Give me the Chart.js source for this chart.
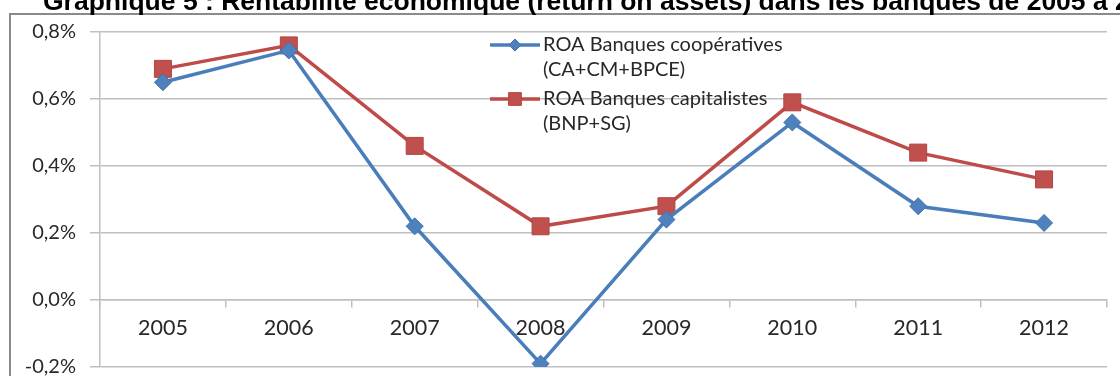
<!DOCTYPE html>
<html lang="fr">
<head>
<meta charset="utf-8">
<title>Rentabilité économique des banques</title>
<script src="https://cdn.jsdelivr.net/npm/chart.js@4/dist/chart.umd.min.js"></script>
<style>
  html, body { margin: 0; padding: 0; background: #fff; overflow: hidden; }
  #wrap { position: relative; width: 1120px; height: 380px; }
</style>
</head>
<body>
<div id="wrap"><canvas id="roaChart"></canvas></div>
<script>
// ROA (%) par année
const years = ['2005', '2006', '2007', '2008', '2009', '2010', '2011', '2012'];
const roaCooperatives = [0.65, 0.745, 0.22, -0.19, 0.24, 0.53, 0.28, 0.23];
const roaCapitalistes = [0.69, 0.76, 0.46, 0.22, 0.28, 0.59, 0.44, 0.36];
const yTicks = [-0.2, 0, 0.2, 0.4, 0.6, 0.8];
const legendCooperatives = ['ROA Banques coopératives', '(CA+CM+BPCE)'];
const legendCapitalistes = ['ROA Banques capitalistes', '(BNP+SG)'];
const chartTitle = 'Graphique 5 : Rentabilité économique (return on assets) dans les banques de 2005 à 2012';

const FONT = 'Lato';
const GRID = '#BFBFBF';
const TEXT = '#282828';

// cadre gris + titre (coupé en haut)
const framePlugin = {
    id: 'frame',
    beforeDraw(chart) {
        const ctx = chart.ctx;
        ctx.save();
        ctx.fillStyle = '#fff';
        ctx.fillRect(0, 0, chart.width, chart.height);
        ctx.strokeStyle = '#8A8A8A';
        ctx.lineWidth = 2;
        ctx.strokeRect(10, 14, chart.width + 40, chart.height + 40);
        ctx.fillStyle = '#000';
        ctx.font = 'bold 26.5px "Liberation Sans", Arial, sans-serif';
        ctx.textBaseline = 'alphabetic';
        ctx.fillText(chartTitle, 43, 10);
        ctx.restore();
    }
};

// légende sur deux lignes, posée dans la zone du graphique
const legendPlugin = {
    id: 'twoLineLegend',
    beforeDatasetsDraw(chart) {
        const ctx = chart.ctx;
        const rows = [45, 99];
        ctx.save();
        chart.data.datasets.forEach((ds, i) => {
            const y = rows[i];
            ctx.strokeStyle = ds.borderColor;
            ctx.lineWidth = ds.borderWidth;
            ctx.beginPath();
            ctx.moveTo(490, y);
            ctx.lineTo(540, y);
            ctx.stroke();
            ctx.fillStyle = ds.pointBackgroundColor;
            ctx.strokeStyle = ds.pointBorderColor;
            ctx.lineWidth = 1;
            Chart.helpers.drawPoint(ctx, {
                pointStyle: ds.pointStyle,
                radius: ds.legendRadius,
                rotation: 0,
                borderWidth: 1
            }, 515, y);
            ctx.fillStyle = TEXT;
            ctx.font = '20px ' + FONT;
            ctx.textBaseline = 'middle';
            ds.legendLines.forEach((line, k) => {
                ctx.fillText(line, 543, y + k * 25);
            });
        });
        ctx.restore();
    }
};

new Chart(document.getElementById('roaChart'), {
    type: 'line',
    data: {
        labels: years,
        datasets: [
            {
                label: legendCooperatives.join(' '),
                legendLines: legendCooperatives,
                data: roaCooperatives,
                borderColor: '#4A7EBB',
                borderWidth: 3.5,
                pointStyle: 'rectRot',
                pointRadius: 8.5,
                legendRadius: 6,
                pointBackgroundColor: '#4F81BD',
                pointBorderColor: '#3F72B0',
                pointBorderWidth: 1,
                tension: 0
            },
            {
                label: legendCapitalistes.join(' '),
                legendLines: legendCapitalistes,
                data: roaCapitalistes,
                borderColor: '#BE4B48',
                borderWidth: 3.5,
                pointStyle: 'rect',
                pointRadius: 12,
                legendRadius: 9,
                pointBackgroundColor: '#C0504D',
                pointBorderColor: '#B04542',
                pointBorderWidth: 1,
                tension: 0
            }
        ]
    },
    options: {
        responsive: true,
        maintainAspectRatio: false,
        animation: false,
        events: [],
        layout: { padding: { left: 0, top: 32, right: 12, bottom: 6 } },
        plugins: {
            legend: { display: false },
            title: { display: false },
            tooltip: { enabled: false }
        },
        scales: {
            x: {
                type: 'category',
                position: { y: 0 },
                offset: true,
                afterFit(scale) {
                    scale.paddingLeft = 0; scale.paddingRight = 0;
                    scale.paddingTop = 0; scale.paddingBottom = 0;
                },
                grid: { offset: true, drawOnChartArea: false, tickLength: 7, color: GRID, lineWidth: 1.5 },
                border: { color: GRID, width: 1.5 },
                ticks: { padding: 8, color: TEXT, font: { family: FONT, size: 21.5 } }
            },
            y: {
                min: -0.2,
                max: 0.8,
                afterFit(scale) {
                    scale.width = 100;
                    scale.paddingTop = 0; scale.paddingBottom = 0;
                },
                afterBuildTicks(scale) { scale.ticks = yTicks.map(v => ({ value: v })); },
                grid: { color: GRID, lineWidth: 1.5, tickLength: 10 },
                border: { color: GRID, width: 1.5 },
                ticks: {
                    padding: 14,
                    color: TEXT,
                    font: { family: FONT, size: 20 },
                    callback: v => v.toFixed(1).replace('.', ',') + '%'
                }
            }
        }
    },
    plugins: [framePlugin, legendPlugin]
});
</script>
</body>
</html>
